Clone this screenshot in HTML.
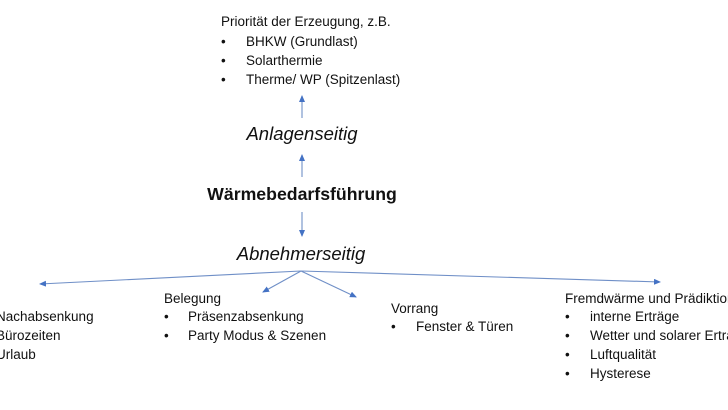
<!DOCTYPE html>
<html><head><meta charset="utf-8"><style>
body{margin:0;width:728px;height:410px;background:#fff;overflow:hidden;position:relative;font-family:"Liberation Sans",sans-serif;color:#111}
.t{position:absolute;font-size:13.5px;white-space:nowrap;line-height:19px}
.h{position:absolute;font-size:18.5px;white-space:nowrap;font-style:italic;transform:translateX(-50%)}
</style></head><body>
<svg width="728" height="410" style="position:absolute;left:0;top:0">
<defs><marker id="a" markerWidth="8" markerHeight="8" refX="6" refY="3" orient="auto" markerUnits="userSpaceOnUse"><path d="M0,0 L7,3 L0,6 z" fill="#4472c4"/></marker></defs>
<g stroke="#6f8fc7" stroke-width="1.1" fill="none" marker-end="url(#a)">
<line x1="302" y1="118" x2="302" y2="96"/>
<line x1="302" y1="177" x2="302" y2="155"/>
<line x1="302" y1="212" x2="302" y2="236"/>
<line x1="301" y1="271" x2="40" y2="284"/>
<line x1="301" y1="271" x2="263" y2="292"/>
<line x1="301" y1="271" x2="356" y2="297"/>
<line x1="301" y1="271" x2="660" y2="282"/>
</g></svg>
<div class="t" style="left:221px;top:12px">Priorität der Erzeugung, z.B.</div>
<div class="t" style="left:221px;top:32px">•</div><div class="t" style="left:246px;top:32px">BHKW (Grundlast)</div>
<div class="t" style="left:221px;top:51px">•</div><div class="t" style="left:246px;top:51px">Solarthermie</div>
<div class="t" style="left:221px;top:70px">•</div><div class="t" style="left:246px;top:70px">Therme/ WP (Spitzenlast)</div>
<div class="h" style="left:302px;top:123px">Anlagenseitig</div>
<div class="h" style="left:302px;top:184px;font-style:normal;font-weight:bold;font-size:17.7px">Wärmebedarfsführung</div>
<div class="h" style="left:301px;top:243px">Abnehmerseitig</div>
<div class="t" style="left:-4px;top:307px">Nachabsenkung</div>
<div class="t" style="left:-4px;top:326px">Bürozeiten</div>
<div class="t" style="left:-4px;top:345px">Urlaub</div>
<div class="t" style="left:164px;top:289px">Belegung</div>
<div class="t" style="left:164px;top:307px">•</div><div class="t" style="left:188px;top:307px">Präsenzabsenkung</div>
<div class="t" style="left:164px;top:326px">•</div><div class="t" style="left:188px;top:326px">Party Modus &amp; Szenen</div>
<div class="t" style="left:391px;top:299px">Vorrang</div>
<div class="t" style="left:391px;top:317px">•</div><div class="t" style="left:416px;top:317px">Fenster &amp; Türen</div>
<div class="t" style="left:565px;top:289px">Fremdwärme und Prädiktion</div>
<div class="t" style="left:565px;top:307px">•</div><div class="t" style="left:590px;top:307px">interne Erträge</div>
<div class="t" style="left:565px;top:326px">•</div><div class="t" style="left:590px;top:326px">Wetter und solarer Ertrag</div>
<div class="t" style="left:565px;top:345px">•</div><div class="t" style="left:590px;top:345px">Luftqualität</div>
<div class="t" style="left:565px;top:364px">•</div><div class="t" style="left:590px;top:364px">Hysterese</div>
</body></html>
